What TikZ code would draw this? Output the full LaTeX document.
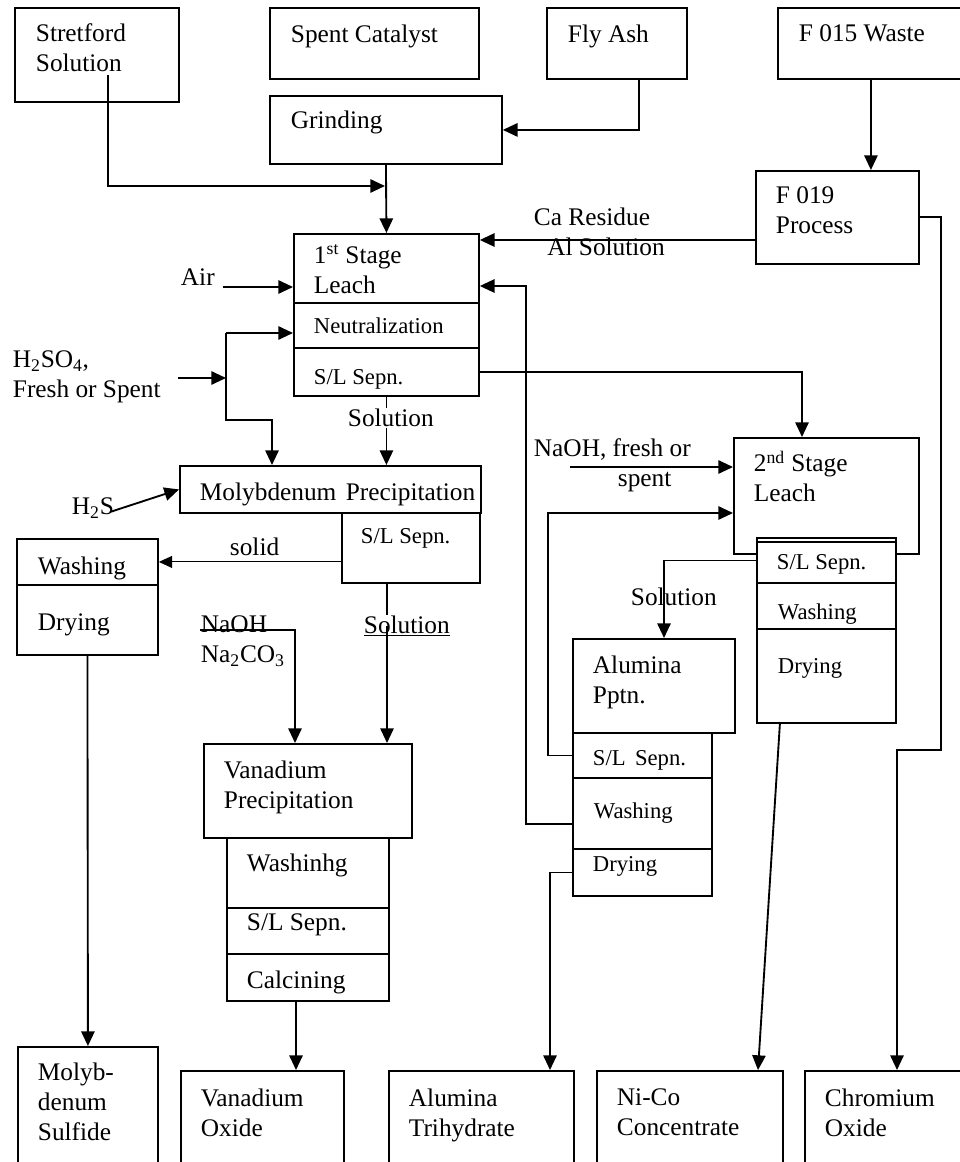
\documentclass[tikz,border=0pt]{standalone}
\usepackage{fontspec}
\setmainfont{Liberation Serif}
\usetikzlibrary{arrows.meta}

\tikzset{every picture/.style={line width=1.4pt}}
\tikzset{
  pbox/.style 2 args={draw, rectangle, anchor=north west, inner sep=0pt, minimum width=#1*0.75pt, minimum height=#2*0.75pt},
  lbl/.style={anchor=north west, inner sep=0pt, align=left, font=\fontsize{19}{22.5}\selectfont},
  slbl/.style={lbl, font=\fontsize{17}{21}\selectfont},
  arr/.style={-{Triangle[length=11pt,width=10pt]}},
  thinarr/.style={line width=0.8pt, -{Triangle[length=10pt,width=9pt]}}
}

\begin{document}
\begin{tikzpicture}[x=0.75pt,y=0.75pt,yscale=-1,xscale=1]
\useasboundingbox (0,0) rectangle (959,1162);

%Shape: Rectangle (feeds)
\node [pbox={164}{94}] (strf) at (14,7) {};
\node [pbox={209}{71}] (spcat) at (269,7) {};
\node [pbox={140}{71}] (flyash) at (546,7) {};
\node [pbox={186}{71}] (fwaste) at (777,7) {};
\node [pbox={232}{68}] (grind) at (269,95) {};
\node [pbox={163}{93}] (fproc) at (755,170) {};
%Shape: Rectangle (1st stage)
\node [pbox={185}{69}] (leach1) at (293,233) {};
\node [pbox={185}{45}] (neut) at (293,302) {};
\node [pbox={185}{48}] (slA) at (293,347) {};
%Shape: Rectangle (molybdenum)
\node [pbox={301}{47}] (molyp) at (179,465) {};
\node [pbox={138}{70}] (slB) at (341,512) {};
\node [pbox={141}{46}] (washA) at (16,538) {};
\node [pbox={141}{70}] (dryA) at (16,584) {};
%Shape: Rectangle (vanadium)
\node [pbox={208}{94}] (vanp) at (203,743) {};
\node [pbox={162}{70}] (washV) at (226,837) {};
\node [pbox={162}{46}] (slV) at (226,907) {};
\node [pbox={162}{47}] (calc) at (226,953) {};
%Shape: Rectangle (2nd stage)
\node [pbox={185}{116}] (leach2) at (733,437) {};
\node [pbox={139}{45}, fill=white] (slC) at (756,537) {};
\draw (slC.north west) ++(0,5) -- ++(139,0);
\node [pbox={139}{46}, fill=white] (washC) at (756,582) {};
\node [pbox={139}{94}, fill=white] (dryC) at (756,628) {};
%Shape: Rectangle (alumina)
\node [pbox={162}{94}] (alp) at (572,638) {};
\node [pbox={139}{45}] (slD) at (572,732) {};
\node [pbox={139}{71}] (washD) at (572,777) {};
\node [pbox={139}{47}] (dryD) at (572,848) {};
%Shape: Rectangle (products)
\node [pbox={140}{116}] (molys) at (17,1046) {};
\node [pbox={163}{92}] (vanox) at (180,1070) {};
\node [pbox={185}{92}] (alutri) at (388,1070) {};
\node [pbox={186}{92}] (nico) at (596,1070) {};
\node [pbox={160}{92}] (crox) at (804,1070) {};

% Text Node
\node [lbl] (strfT) at (35,23) {Stretford\\Solution};
\node [lbl] (spcatT) at (290,24) {Spent Catalyst};
\node [lbl] (flyT) at (567,24) {Fly Ash};
\node [lbl] (fwT) at (798,24) {F 015 Waste};
\node [lbl] (grT) at (290,110) {Grinding};
\node [lbl] (fpT) at (775,186) {F 019\\Process};
\node [lbl] (l1T) at (313,244) {1\textsuperscript{st} Stage\\Leach};
\node [slbl] (neutT) at (313,317) {Neutralization};
\node [slbl] (slAT) at (313,369) {S/L Sepn.};
\node [lbl] (solA) at (347,408) {Solution};
\node [lbl] (airT) at (180,268) {Air};
\node [lbl] (acidT) at (12,350) {H\textsubscript{2}SO\textsubscript{4},\\Fresh or Spent};
\node [lbl] (caT) at (533,207) {Ca Residue\\\hspace*{10pt}Al Solution};
\node [lbl] (molyT) at (199,482) {Molybdenum\hspace{7pt}Precipitation};
\node [lbl] (h2sT) at (71,497) {H\textsubscript{2}S};
\node [slbl] (slBT) at (360,528) {S/L Sepn.};
\node [lbl] (solidT) at (229,537) {solid};
\node [lbl] (washAT) at (37,556) {Washing};
\node [lbl] (dryAT) at (37,613) {Drying};
\node [lbl] (naohT) at (200,615) {NaOH\\Na\textsubscript{2}CO\textsubscript{3}};
\node [lbl] (solB) at (363,615) {\underline{Solution}};
\node [lbl] (vanpT) at (223,760) {Vanadium\\Precipitation};
\node [lbl] (washVT) at (246,853) {Washinhg};
\node [lbl] (slVT) at (246,913) {S/L Sepn.};
\node [lbl] (calcT) at (246,970) {Calcining};
\node [lbl] (naoh2T) at (533,438) {NaOH, fresh or\\\hspace*{63pt}spent};
\node [lbl] (l2T) at (753,450) {2\textsuperscript{nd} Stage\\Leach};
\node [slbl] (slCT) at (776,554) {S/L Sepn.};
\node [slbl] (washCT) at (777,603) {Washing};
\node [slbl] (dryCT) at (777,658) {Drying};
\node [lbl] (solC) at (630,587) {Solution};
\node [lbl] (alpT) at (592,655) {Alumina\\Pptn.};
\node [slbl] (slDT) at (592,750) {S/L\hspace{7pt}Sepn.};
\node [slbl] (washDT) at (593,802) {Washing};
\node [slbl] (dryDT) at (592,856) {Drying};
\node [lbl] (molysT) at (37,1062) {Molyb-\\denum\\Sulfide};
\node [lbl] (vanoxT) at (200,1088) {Vanadium\\Oxide};
\node [lbl] (alutriT) at (408,1088) {Alumina\\Trihydrate};
\node [lbl] (nicoT) at (616,1088) {Ni-Co\\Concentrate};
\node [lbl] (croxT) at (824,1088) {Chromium\\Oxide};

% bend points
\coordinate (strfout) at (108,75);
\coordinate (grjoin) at (385,186);
\coordinate (flyout) at (639,78);
\coordinate (caline) at (0,240);
\coordinate (crA) at (941,750);
\coordinate (crB) at (897,750);
\coordinate (airin) at (223,287);
\coordinate (acidin) at (178,378);
\coordinate (acidA) at (226,333);
\coordinate (acidB) at (226,420);
\coordinate (acidC) at (272,420);
\coordinate (h2sout) at (110,512);
\coordinate (solx) at (387,0);
\coordinate (naohA) at (200,630);
\coordinate (naohx) at (295,0);
\coordinate (vx) at (296,0);
\coordinate (l2x) at (802,0);
\coordinate (naoh2in) at (570,467);
\coordinate (loopA) at (548,513);
\coordinate (sol3x) at (664,0);
\coordinate (retA) at (526,824);
\coordinate (retB) at (526,286);
\coordinate (atx) at (550,0);
\coordinate (ncA) at (780,722);
\coordinate (ncx) at (758,0);

%Straight Lines
\draw [arr] (strfout) |- (grjoin);
\draw [arr] (grind.south) -- (leach1.north);
\draw [arr] (flyout) |- (grind.east);
\draw [arr] (fwaste.south) -- (fwaste.south |- fproc.north);
\draw [arr] (fproc.west |- caline) -- (leach1.east |- caline);
\draw [arr] (fproc.east) -| (crA) -- (crB) -- (crB |- crox.north);
\draw [arr] (airin) -- (leach1.west |- airin);
\draw [arr] (acidin) -- (acidA |- acidin);
\draw [arr] (acidA) -- (neut.west |- acidA);
\draw [arr] (acidA) -- (acidB) -| (molyp.north -| acidC);
\draw (slA.south) -- (slA.south |- solA.north);
\draw [arr] (slA.south |- solA.south) -- (slA.south |- molyp.north);
\draw [arr] (h2sout) -- (molyp.west);
\draw [thinarr] (slB.west |- washA.east) -- (washA.east);
\draw (slB.south -| solx) -- (solx |- solB.north);
\draw [arr] (solx |- solB.center) -- (solx |- vanp.north);
\draw [arr] (naohA) -| (vanp.north -| naohx);
\draw [arr] (calc.south -| vx) -- (vanox.north -| vx);
\draw [arr] (dryA.south) -- (molys.north);
\draw [arr] (slA.east) -| (leach2.north -| l2x);
\draw [arr] (naoh2in) -- (leach2.west |- naoh2in);
\draw [arr] (slD.west) -| (loopA) -- (leach2.west |- loopA);
\draw [arr] (slC.west) -| (alp.north -| sol3x);
\draw [arr] (washD.west |- retA) -- (retA) -- (retB) -- (leach1.east |- retB);
\draw [arr] (dryD.west) -| (alutri.north -| atx);
\draw [arr] (ncA) -- (nico.north -| ncx);

\end{tikzpicture}
\end{document}
